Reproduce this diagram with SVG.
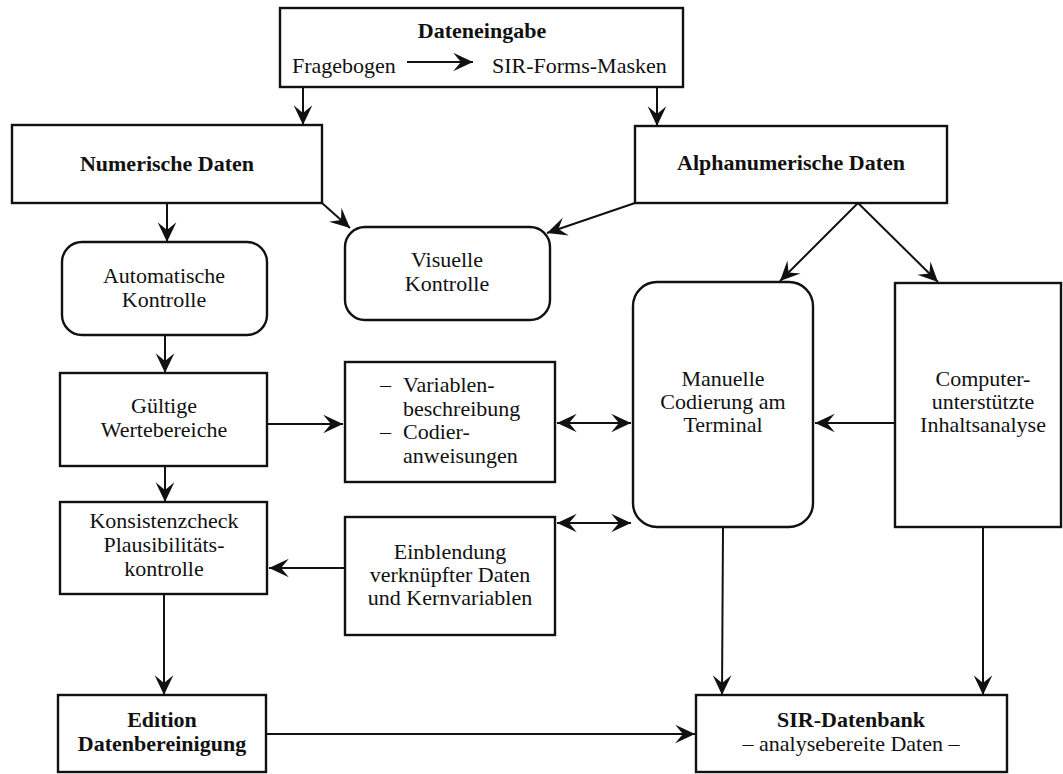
<svg xmlns="http://www.w3.org/2000/svg" width="1063" height="774" viewBox="0 0 1063 774">
<style>
  .box { fill: #fff; stroke: #111; stroke-width: 2.4; }
  .t { font-family: "Liberation Serif", "Times New Roman", serif; font-size: 22px; fill: #111; text-anchor: middle; }
  .l { text-anchor: start; }
  .b { font-weight: bold; }
  .c { fill: none; stroke: #111; stroke-width: 2; }
</style>
<defs>
  <marker id="ah" markerUnits="userSpaceOnUse" markerWidth="22" markerHeight="22" viewBox="-19 -10 20 20" refX="0" refY="0" orient="auto-start-reverse">
    <path d="M0,0 L-18,-8.5 L-11,0 L-18,8.5 Z" fill="#111"/>
  </marker>
</defs>
<rect width="1063" height="774" fill="#fff"/>

<g id="n-dateneingabe">
  <rect class="box" x="280" y="8" width="403" height="79"/>
  <text class="t b" x="482" y="38">Dateneingabe</text>
  <text class="t l" x="292" y="73">Fragebogen</text>
  <text class="t l" x="492" y="73">SIR-Forms-Masken</text>
  <line class="c" x1="407" y1="62" x2="473" y2="62" marker-end="url(#ah)"/>
</g>
<g id="n-numerisch">
  <rect class="box" x="12" y="125" width="310" height="78"/>
  <text class="t b" x="167" y="171">Numerische Daten</text>
</g>
<g id="n-alpha">
  <rect class="box" x="635" y="126" width="312" height="77"/>
  <text class="t b" x="791" y="170">Alphanumerische Daten</text>
</g>
<g id="n-auto">
  <rect class="box" x="62" y="242" width="205" height="93" rx="20"/>
  <text class="t" x="164" y="283">Automatische</text>
  <text class="t" x="164" y="307">Kontrolle</text>
</g>
<g id="n-visuell">
  <rect class="box" x="345" y="227" width="205" height="93" rx="20"/>
  <text class="t" x="447" y="267">Visuelle</text>
  <text class="t" x="447" y="291">Kontrolle</text>
</g>
<g id="n-manuell">
  <rect class="box" x="633" y="282" width="180" height="245" rx="24"/>
  <text class="t" x="723" y="386">Manuelle</text>
  <text class="t" x="723" y="409">Codierung am</text>
  <text class="t" x="723" y="432">Terminal</text>
</g>
<g id="n-computer">
  <rect class="box" x="895" y="283" width="166" height="244"/>
  <text class="t" x="983" y="386">Computer-</text>
  <text class="t" x="983" y="409">unterstützte</text>
  <text class="t" x="983" y="432">Inhaltsanalyse</text>
</g>
<g id="n-gueltig">
  <rect class="box" x="60" y="373" width="207" height="93"/>
  <text class="t" x="164" y="413">Gültige</text>
  <text class="t" x="164" y="437">Wertebereiche</text>
</g>
<g id="n-variablen">
  <rect class="box" x="345" y="362" width="210" height="120"/>
  <text class="t l" x="380" y="392">–</text>
  <text class="t l" x="403" y="392">Variablen-</text>
  <text class="t l" x="403" y="416">beschreibung</text>
  <text class="t l" x="380" y="439">–</text>
  <text class="t l" x="403" y="439">Codier-</text>
  <text class="t l" x="403" y="463">anweisungen</text>
</g>
<g id="n-konsistenz">
  <rect class="box" x="60" y="502" width="207" height="92"/>
  <text class="t" x="164" y="528">Konsistenzcheck</text>
  <text class="t" x="164" y="552">Plausibilitäts-</text>
  <text class="t" x="164" y="576">kontrolle</text>
</g>
<g id="n-einblendung">
  <rect class="box" x="345" y="517" width="210" height="118"/>
  <text class="t" x="450" y="559">Einblendung</text>
  <text class="t" x="450" y="582">verknüpfter Daten</text>
  <text class="t" x="450" y="605">und Kernvariablen</text>
</g>
<g id="n-edition">
  <rect class="box" x="58" y="695" width="208" height="77"/>
  <text class="t b" x="162" y="727">Edition</text>
  <text class="t b" x="162" y="751">Datenbereinigung</text>
</g>
<g id="n-sir">
  <rect class="box" x="696" y="695" width="311" height="77"/>
  <text class="t b" x="851" y="727">SIR-Datenbank</text>
  <text class="t" x="851" y="751">– analysebereite Daten –</text>
</g>

<g id="connectors">
  <line class="c" x1="303" y1="87" x2="303" y2="125" marker-end="url(#ah)"/>
  <line class="c" x1="657" y1="87" x2="657" y2="126" marker-end="url(#ah)"/>
  <line class="c" x1="167" y1="203" x2="167" y2="242" marker-end="url(#ah)"/>
  <line class="c" x1="322" y1="203" x2="350" y2="228" marker-end="url(#ah)"/>
  <line class="c" x1="635" y1="203" x2="547" y2="233" marker-end="url(#ah)"/>
  <line class="c" x1="858" y1="203" x2="780" y2="281" marker-end="url(#ah)"/>
  <line class="c" x1="858" y1="203" x2="938" y2="282" marker-end="url(#ah)"/>
  <line class="c" x1="165" y1="335" x2="165" y2="373" marker-end="url(#ah)"/>
  <line class="c" x1="267" y1="424" x2="343" y2="424" marker-end="url(#ah)"/>
  <line class="c" x1="165" y1="466" x2="165" y2="502" marker-end="url(#ah)"/>
  <line class="c" x1="557" y1="423" x2="631" y2="423" marker-start="url(#ah)" marker-end="url(#ah)"/>
  <line class="c" x1="557" y1="523" x2="631" y2="523" marker-start="url(#ah)" marker-end="url(#ah)"/>
  <line class="c" x1="895" y1="423" x2="815" y2="423" marker-end="url(#ah)"/>
  <line class="c" x1="345" y1="568" x2="269" y2="568" marker-end="url(#ah)"/>
  <line class="c" x1="164" y1="594" x2="164" y2="695" marker-end="url(#ah)"/>
  <line class="c" x1="723" y1="527" x2="722" y2="695" marker-end="url(#ah)"/>
  <line class="c" x1="983" y1="527" x2="983" y2="695" marker-end="url(#ah)"/>
  <line class="c" x1="266" y1="734" x2="695" y2="734" marker-end="url(#ah)"/>
</g>
</svg>
